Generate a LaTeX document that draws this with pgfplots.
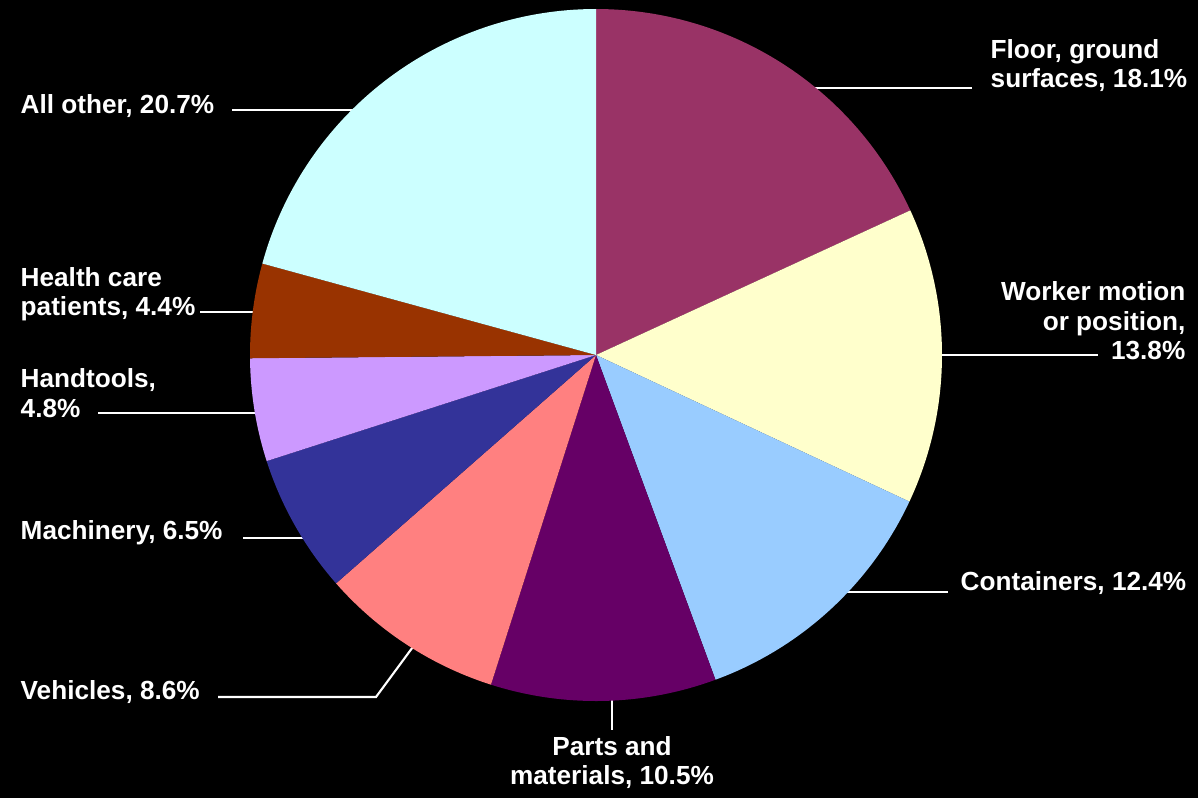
\documentclass[border=0pt]{standalone}
\usepackage{fontspec}
\setmainfont{Liberation Sans}
\usepackage{pgfplots}
\pgfplotsset{compat=1.18}
\definecolor{cFloor}{HTML}{993366}
\definecolor{cWorker}{HTML}{FFFFCC}
\definecolor{cCont}{HTML}{99CCFF}
\definecolor{cParts}{HTML}{660066}
\definecolor{cVeh}{HTML}{FF8080}
\definecolor{cMach}{HTML}{333399}
\definecolor{cHand}{HTML}{CC99FF}
\definecolor{cHealth}{HTML}{993300}
\definecolor{cOther}{HTML}{CCFFFF}
% shares (percent)
\def\total{99.8}
\pgfmathsetmacro\aA{90}
\pgfmathsetmacro\aB{\aA-18.1*360/\total}
\pgfmathsetmacro\aC{\aB-13.8*360/\total}
\pgfmathsetmacro\aD{\aC-12.4*360/\total}
\pgfmathsetmacro\aE{\aD-10.5*360/\total}
\pgfmathsetmacro\aF{\aE-8.6*360/\total}
\pgfmathsetmacro\aG{\aF-6.5*360/\total}
\pgfmathsetmacro\aH{\aG-4.8*360/\total}
\pgfmathsetmacro\aI{\aH-4.4*360/\total}
\pgfmathsetmacro\aJ{\aI-20.7*360/\total}
\def\cx{596}
\def\cy{443}
\def\rr{346}
\newcommand{\pieslice}[3]{%
  \addplot[fill=#1, draw=none, domain=#3:#2, samples=80]
    ({\cx+\rr*cos(x)},{\cy+\rr*sin(x)}) -- (axis cs:\cx,\cy) -- cycle;}
\begin{document}
\begin{tikzpicture}
\begin{axis}[
  width=11.98cm, height=7.98cm, scale only axis,
  xmin=0, xmax=1198, ymin=0, ymax=798,
  hide axis, clip=false,
]
\fill[black] (axis cs:0,0) rectangle (axis cs:1198,798);
% leader lines
\begin{scope}[white, line width=0.6pt]
\draw (axis cs:780,710) -- (axis cs:972,710);
\draw (axis cs:920,443) -- (axis cs:1098,443);
\draw (axis cs:830,206) -- (axis cs:948,206);
\draw (axis cs:612,110) -- (axis cs:612,68);
\draw (axis cs:418,158) -- (axis cs:376,101) -- (axis cs:218,101);
\draw (axis cs:243,260) -- (axis cs:310,260);
\draw (axis cs:98,385) -- (axis cs:262,385);
\draw (axis cs:200,486) -- (axis cs:262,486);
\draw (axis cs:232,688) -- (axis cs:370,688);
\end{scope}
\pieslice{cFloor}{\aA}{\aB}
\pieslice{cWorker}{\aB}{\aC}
\pieslice{cCont}{\aC}{\aD}
\pieslice{cParts}{\aD}{\aE}
\pieslice{cVeh}{\aE}{\aF}
\pieslice{cMach}{\aF}{\aG}
\pieslice{cHand}{\aG}{\aH}
\pieslice{cHealth}{\aH}{\aI}
\pieslice{cOther}{\aI}{\aJ}
\begin{scope}[every node/.style={text=white, inner sep=0pt, font=\bfseries\fontsize{7.45}{9}\selectfont}]
\node[anchor=base west] at (axis cs:990,740) {Floor, ground};
\node[anchor=base west] at (axis cs:990,711) {surfaces, 18.1\%};
\node[anchor=base east] at (axis cs:1186,498) {Worker motion};
\node[anchor=base east] at (axis cs:1186,468) {or position,};
\node[anchor=base east] at (axis cs:1186,439) {13.8\%};
\node[anchor=base west] at (axis cs:960,208) {Containers, 12.4\%};
\node[anchor=base] at (axis cs:612,43) {Parts and};
\node[anchor=base] at (axis cs:612,14) {materials, 10.5\%};
\node[anchor=base west] at (axis cs:20,99) {Vehicles, 8.6\%};
\node[anchor=base west] at (axis cs:20,259) {Machinery, 6.5\%};
\node[anchor=base west] at (axis cs:20,411) {Handtools,};
\node[anchor=base west] at (axis cs:20,381) {4.8\%};
\node[anchor=base west] at (axis cs:20,512) {Health care};
\node[anchor=base west] at (axis cs:20,483) {patients, 4.4\%};
\node[anchor=base west] at (axis cs:20,685) {All other, 20.7\%};
\end{scope}
\end{axis}
\end{tikzpicture}
\end{document}
